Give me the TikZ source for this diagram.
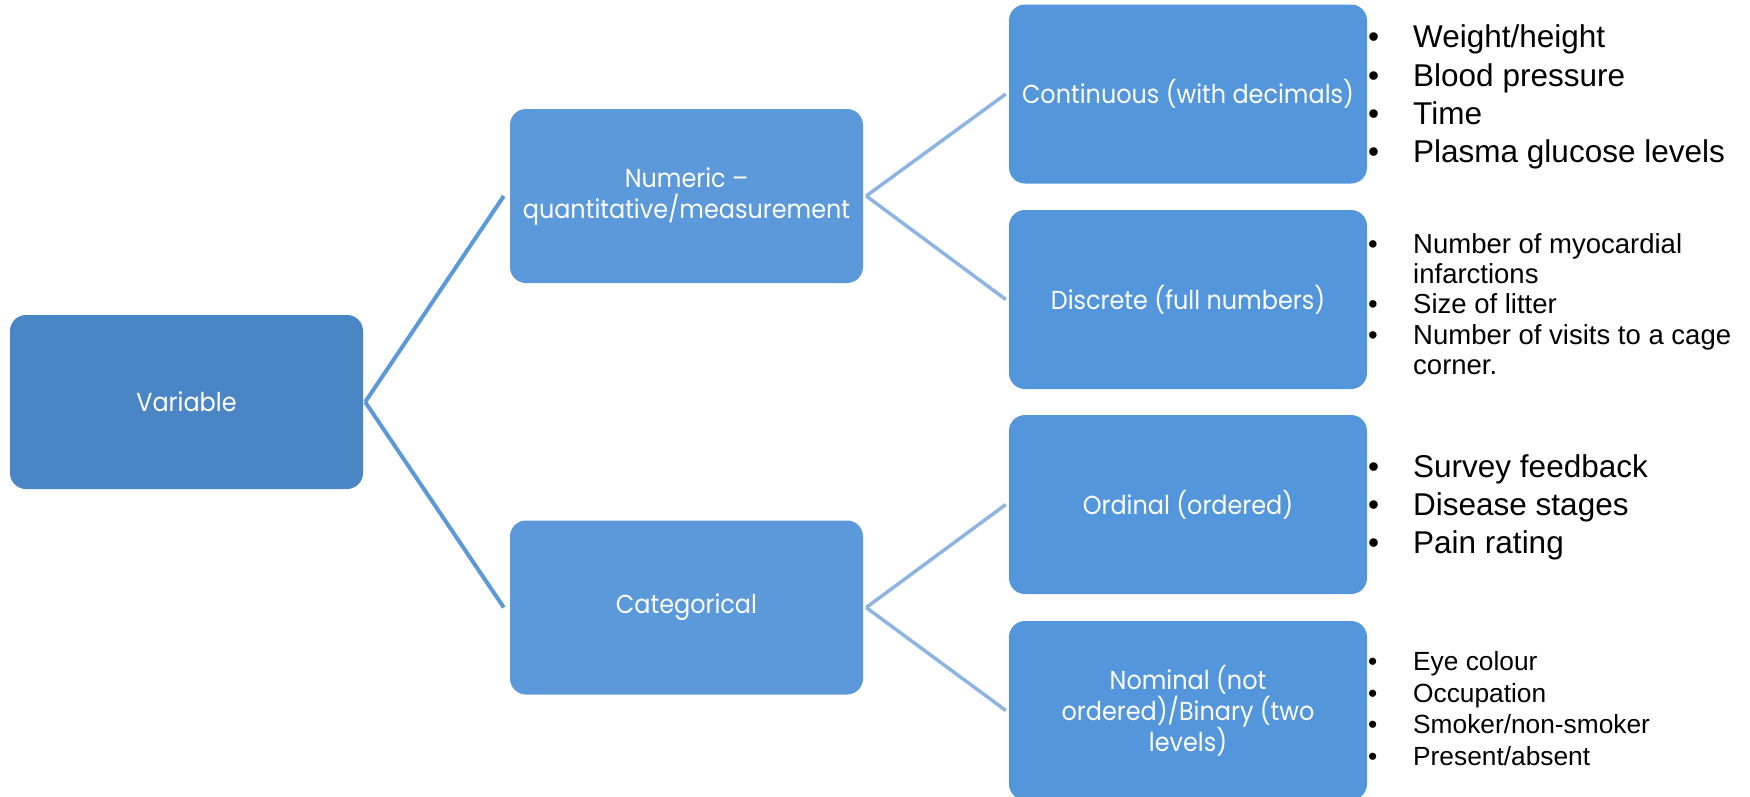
\documentclass[tikz,border=0pt]{standalone}
\usepackage{fontspec}
\setmainfont{Liberation Sans}
\newfontfamily\arialf{Liberation Sans}
\newfontfamily\boxf[FakeStretch=0.92]{Poppins}
\definecolor{cvar}{HTML}{4A86C5}
\definecolor{cmid}{HTML}{5B99DA}
\definecolor{cleaf}{HTML}{5396DC}
\definecolor{conna}{HTML}{5B99DA}
\definecolor{connb}{HTML}{8DB4E3}
\tikzset{
  box/.style={rectangle, rounded corners=16pt, align=center, text=white, inner sep=0pt,
    font=\boxf\fontsize{26}{31}\selectfont},
  boxvar/.style={box, fill=cvar, minimum width=353pt, minimum height=174pt},
  boxmid/.style={box, fill=cmid, minimum width=353pt, minimum height=174pt},
  boxleaf/.style={box, fill=cleaf, minimum width=358pt, minimum height=179pt},
  linka/.style={draw=conna, line width=4pt},
  linkb/.style={draw=connb, line width=3.5pt},
  itembig/.style={anchor=base west, inner sep=0pt, font=\arialf\fontsize{31.5}{38}\selectfont},
  itemsmall/.style={anchor=base west, inner sep=0pt, font=\arialf\fontsize{27.5}{30}\selectfont},
  itemtiny/.style={anchor=base west, inner sep=0pt, font=\arialf\fontsize{26.3}{31}\selectfont},
}
\newcommand\bul{\llap{\makebox[45pt][l]{\textbullet}}}
\begin{document}
\begin{tikzpicture}[x=1pt, y=-1pt]
\useasboundingbox (0,0) rectangle (1750,796);
\clip (0,0) rectangle (1750,796);
\fill[white] (0,0) rectangle (1750,796);

\node[boxvar] (var) at (186.5,402) {Variable};
\node[boxmid] (num) at (686.5,196) {Numeric \textendash\\quantitative/measurement};
\node[boxmid] (cat) at (686.5,607.5) {Categorical};
\node[boxleaf] (cont) at (1188,94) {Continuous (with decimals)};
\node[boxleaf] (disc) at (1188,299.5) {Discrete (full numbers)};
\node[boxleaf] (ord) at (1188,504.5) {Ordinal (ordered)};
\node[boxleaf] (nom) at (1188,710.5) {Nominal (not\\ordered)/Binary (two\\levels)};

\draw[linka] ([xshift=2pt]var.east) -- ([xshift=-6pt]num.west);
\draw[linka] ([xshift=2pt]var.east) -- ([xshift=-6pt]cat.west);
\draw[linkb] ([xshift=3pt]num.east) -- ([xshift=-3pt]cont.west);
\draw[linkb] ([xshift=3pt]num.east) -- ([xshift=-3pt]disc.west);
\draw[linkb] ([xshift=3pt]cat.east) -- ([xshift=-3pt]ord.west);
\draw[linkb] ([xshift=3pt]cat.east) -- ([xshift=-3pt]nom.west);

\node[itembig] (a1) at (1413,47) {\bul Weight/height};
\node[itembig] (a2) at (1413,86) {\bul Blood pressure};
\node[itembig] (a3) at (1413,124) {\bul Time};
\node[itembig] (a4) at (1413,162) {\bul Plasma glucose levels};

\node[itemsmall] (b1) at (1413,253) {\bul Number of myocardial};
\node[itemsmall] (b1w) at (1413,283) {infarctions};
\node[itemsmall] (b2) at (1413,313) {\bul Size of litter};
\node[itemsmall] (b3) at (1413,344) {\bul Number of visits to a cage};
\node[itemsmall] (b3w) at (1413,374) {corner.};

\node[itembig] (c1) at (1413,477) {\bul Survey feedback};
\node[itembig] (c2) at (1413,515) {\bul Disease stages};
\node[itembig] (c3) at (1413,553) {\bul Pain rating};

\node[itemtiny] (d1) at (1413,670) {\bul Eye colour};
\node[itemtiny] (d2) at (1413,702) {\bul Occupation};
\node[itemtiny] (d3) at (1413,733) {\bul Smoker/non-smoker};
\node[itemtiny] (d4) at (1413,765) {\bul Present/absent};
\end{tikzpicture}
\end{document}
